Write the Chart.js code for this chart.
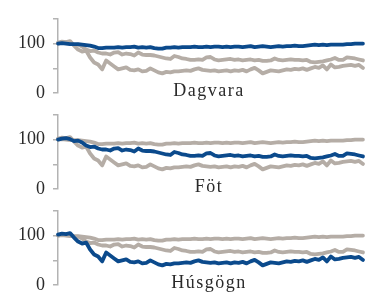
<!DOCTYPE html>
<html>
<head>
<meta charset="utf-8">
<script src="https://cdn.jsdelivr.net/npm/chart.js@4"></script>
<style>
    html, body { margin: 0; padding: 0; background: #fff; }
    #wrap { position: relative; width: 378px; height: 293px; overflow: hidden; }
    .panel { position: absolute; left: 0; width: 378px; height: 112px; }
</style>
</head>
<body>
<div id="wrap">
    <div class="panel" style="top:0px"><canvas id="c0"></canvas></div>
    <div class="panel" style="top:96px"><canvas id="c1"></canvas></div>
    <div class="panel" style="top:192px"><canvas id="c2"></canvas></div>
</div>
<script>
const PANELS = ['Dagvara', 'Föt', 'Húsgögn'];

const DAGVARA = [
    100, 101, 100, 99, 99, 99, 98, 97, 96, 94, 91, 91, 92, 92, 92, 93, 92, 93, 93, 94,
    92, 93, 92, 93, 91, 90, 90, 92, 92, 93, 92, 93, 93, 93, 94, 93, 93, 94, 93, 94,
    94, 93, 94, 93, 94, 94, 93, 94, 95, 93, 94, 95, 94, 93, 94, 95, 94, 95, 95, 96,
    95, 95, 96, 97, 98, 97, 98, 97, 98, 98, 98, 98, 99, 99, 100, 100, 100,
];

const FOT = [
    100, 102, 103, 101, 97, 98, 94, 88, 85, 86, 82, 80, 80, 78, 82, 83, 78, 80, 79, 76,
    82, 78, 77, 77, 76, 74, 72, 70, 69, 75, 73, 70, 69, 67, 67, 68, 67, 72, 73, 68,
    66, 67, 68, 69, 67, 68, 66, 67, 68, 66, 67, 65, 65, 66, 70, 67, 66, 67, 68, 67,
    67, 66, 67, 63, 62, 63, 64, 66, 68, 71, 67, 67, 72, 71, 70, 68, 66,
];

const HUSGOGN = [
    102, 104, 103, 105, 96, 88, 84, 86, 72, 62, 58, 48, 66, 60, 54, 48, 50, 52, 47, 46,
    48, 44, 45, 50, 46, 42, 40, 43, 42, 44, 44, 45, 46, 45, 48, 50, 47, 46, 45, 46,
    44, 45, 46, 44, 46, 45, 47, 44, 48, 51, 46, 40, 43, 46, 45, 44, 46, 48, 47, 49,
    48, 50, 47, 50, 53, 51, 56, 48, 58, 52, 53, 55, 56, 57, 55, 57, 51,
];

const SERIES = [DAGVARA, FOT, HUSGOGN];
const PERIODS = DAGVARA.map((_, i) => i);
const Y_TICKS_SHOWN = [0, 100];

const BLUE = '#0b4a8c';
const GRAY = '#b5ada6';
const AXIS = '#b3b3b3';
const TEXT = '#2a2a2a';
const SERIF = '"Liberation Serif", "Times New Roman", serif';

// panel name drawn just under the series, centred on the plot
const panelLabel = {
    id: 'panelLabel',
    afterDraw(chart, args, opts) {
        const { ctx, chartArea } = chart;
        ctx.save();
        ctx.font = '18px ' + SERIF;
        ctx.letterSpacing = '1.5px';
        ctx.fillStyle = TEXT;
        ctx.textAlign = 'center';
        ctx.textBaseline = 'alphabetic';
        ctx.fillText(opts.text, 209, chartArea.bottom + 3);
        ctx.restore();
    },
};

function makePanel(idx) {
    const datasets = SERIES.map((values, i) => ({
        data: values,
        borderColor: i === idx ? BLUE : GRAY,
        borderWidth: 3.8,
        pointRadius: 0,
        tension: 0,
        borderJoinStyle: 'round',
        borderCapStyle: 'round',
        order: i === idx ? 0 : 1,
    }));

    new Chart(document.getElementById('c' + idx), {
        type: 'line',
        data: { labels: PERIODS, datasets },
        plugins: [panelLabel],
        options: {
            responsive: true,
            maintainAspectRatio: false,
            animation: false,
            layout: { padding: { top: 14, bottom: 18, left: 0, right: 15 } },
            plugins: {
                legend: { display: false },
                tooltip: { enabled: false },
                panelLabel: { text: PANELS[idx] },
            },
            scales: {
                x: { type: 'category', display: false, offset: false },
                y: {
                    min: 0,
                    max: 150,
                    afterFit: s => { s.width = 58; },
                    ticks: {
                        stepSize: 50,
                        padding: 8,
                        color: TEXT,
                        font: { family: SERIF, size: 18 },
                        callback: v => Y_TICKS_SHOWN.includes(v) ? String(v) : '',
                    },
                    grid: {
                        drawOnChartArea: false,
                        drawTicks: true,
                        tickLength: 5,
                        color: AXIS,
                        lineWidth: 1.5,
                    },
                    border: { color: AXIS, width: 1.5 },
                },
            },
        },
    });
}

PANELS.forEach((_, i) => makePanel(i));
</script>
</body>
</html>
